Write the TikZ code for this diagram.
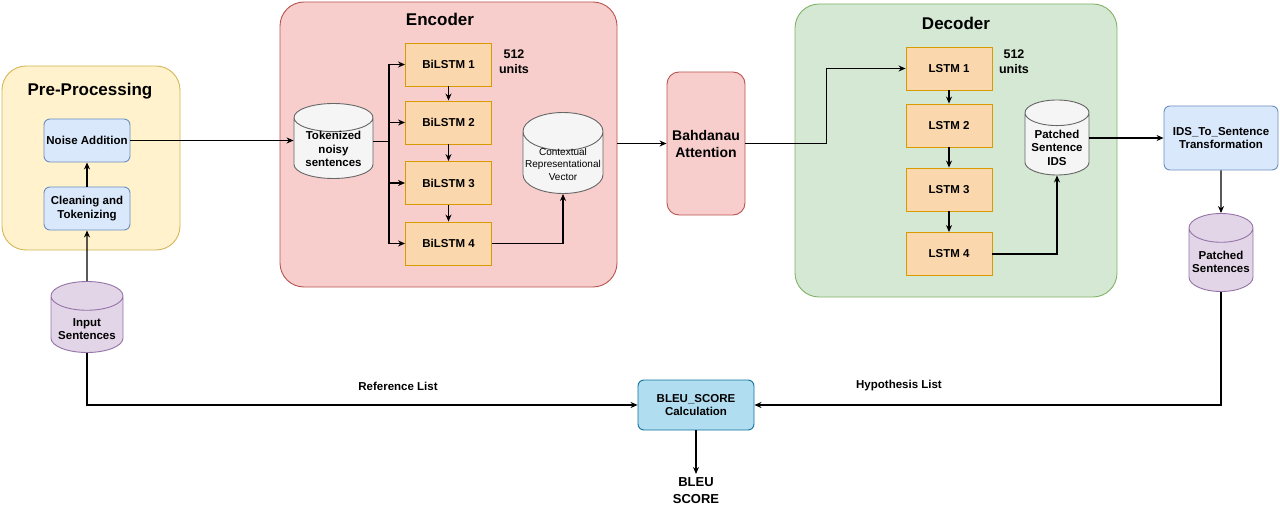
\documentclass[tikz,border=0pt]{standalone}
\usepackage{fontspec}
\setmainfont{Liberation Sans}
\usetikzlibrary{arrows.meta, positioning, shapes.geometric}
\definecolor{preFill}{HTML}{FFF2CC}
\definecolor{preLine}{HTML}{D6B656}
\definecolor{encFill}{HTML}{F8CECC}
\definecolor{encLine}{HTML}{B85450}
\definecolor{decFill}{HTML}{D5E8D4}
\definecolor{decLine}{HTML}{82B366}
\definecolor{procFill}{HTML}{DAE8FC}
\definecolor{procLine}{HTML}{6C8EBF}
\definecolor{dataFill}{HTML}{E1D5E7}
\definecolor{dataLine}{HTML}{9673A6}
\definecolor{memFill}{HTML}{F5F5F5}
\definecolor{memLine}{HTML}{666666}
\definecolor{cellFill}{HTML}{FAD7AC}
\definecolor{cellLine}{HTML}{D79B00}
\definecolor{bleuFill}{HTML}{B1DDF0}
\definecolor{bleuLine}{HTML}{10739E}
% text of a cylinder sits below its middle
\newcommand{\cyltext}[2]{\raisebox{-#1}[0pt][0pt]{\begin{tabular}{@{}c@{}}#2\end{tabular}}}
\tikzset{
  group/.style = {draw=#1, rounded corners=24pt, line width=0.9pt},
  grouptitle/.style = {font=\bfseries\fontsize{17}{20}\selectfont},
  procbox/.style = {draw=procLine, fill=procFill, rounded corners=6pt, line width=0.9pt,
    align=center, inner sep=0, minimum width=86pt, minimum height=43pt},
  layer/.style = {draw=cellLine, fill=cellFill, line width=0.9pt, inner sep=0,
    minimum width=86pt, minimum height=43pt},
  store/.style = {cylinder, shape border rotate=90, aspect=0.5, draw=#1, line width=0.9pt,
    inner sep=0, anchor=shape center},
  edge/.style = {line width=1.1pt},
  unitsnote/.style = {font=\bfseries\fontsize{12.5}{15}\selectfont, align=center},
  edgelabel/.style = {font=\bfseries\fontsize{11.5}{13}\selectfont},
}

\begin{document}
\begin{tikzpicture}[x=1pt, y=-1pt, >={Stealth[length=7pt, width=6pt]},
    font=\bfseries\fontsize{11.5}{13.5}\selectfont]
  \useasboundingbox (0,0) rectangle (1280,516);

  % groups
  \node (pre) [group=preLine, fill=preFill, minimum width=178pt, minimum height=184pt] at (91,158) {};
  \node (enc) [group=encLine, fill=encFill, minimum width=337pt, minimum height=285pt] at (448.5,144.5) {};
  \node (dec) [group=decLine, fill=decFill, minimum width=322pt, minimum height=293pt] at (956,150.5) {};
  \node (preTitle) [grouptitle] at (90,91) {Pre-Processing};
  \node (encTitle) [grouptitle] at (440,19) {Encoder};
  \node (decTitle) [grouptitle] at (956,23) {Decoder};

  % pre-processing
  \node (noise) [procbox] at (87,140.5) {Noise Addition};
  \node (clean) [procbox] at (87,208.5) {Cleaning and\\Tokenizing};
  \node (input) [store=dataLine, fill=dataFill, minimum width=72pt, minimum height=71pt] at (87,317) {\cyltext{9pt}{Input\\Sentences}};

  % encoder
  \node (tok) [store=memLine, fill=memFill, minimum width=79pt, minimum height=75pt] at (333.5,141) {\cyltext{5.5pt}{Tokenized\\noisy\\sentences}};
  \foreach \i/\y in {1/64.5, 2/122.5, 3/183, 4/243.5}{
    \node (bilstm\i) [layer] at (448.5,\y) {BiLSTM \i};
  }
  \node (encUnits) [unitsnote] at (514,62) {512\\units};
  \node (ctx) [store=memLine, fill=memFill, minimum width=80pt, minimum height=81pt,
    font=\fontsize{10}{12.5}\selectfont] at (563,153) {\cyltext{5pt}{Contextual\\Representational\\Vector}};

  % attention
  \node (attn) [draw=encLine, fill=encFill, rounded corners=12pt, line width=0.9pt, align=center,
    minimum width=78pt, minimum height=143pt, font=\bfseries\fontsize{14}{17}\selectfont] at (706,143.5) {Bahdanau\\Attention};

  % decoder
  \foreach \i/\y in {1/68.5, 2/125.5, 3/189.5, 4/254}{
    \node (lstm\i) [layer] at (949,\y) {LSTM \i};
  }
  \node (decUnits) [unitsnote] at (1014,62) {512\\units};
  \node (ids) [store=memLine, fill=memFill, minimum width=64pt, minimum height=75pt] at (1057,137.5) {\cyltext{8pt}{Patched\\Sentence\\IDS}};

  % post-processing
  \node (toSent) [procbox, minimum width=114pt, minimum height=64pt] at (1221,138) {IDS\_To\_Sentence\\Transformation};
  \node (patched) [store=dataLine, fill=dataFill, minimum width=64pt, minimum height=78pt] at (1221,252.5) {\cyltext{6.5pt}{Patched\\Sentences}};
  \node (bleu) [procbox, draw=bleuLine, fill=bleuFill, minimum width=116pt, minimum height=50pt] at (696,405) {BLEU\_SCORE\\Calculation};
  \node (score) [font=\bfseries\fontsize{13}{17}\selectfont, align=center, anchor=north] at (696,474) {BLEU\\SCORE};
  \node (refLabel) [edgelabel] at (398,386) {Reference List};
  \node (hypLabel) [edgelabel] at (899,386) {Hypothesis List};

  % connectors
  \draw [edge, ->] (input.north) -- (clean.south);
  \draw [edge, ->] (clean.north) -- (noise.south);
  \draw [edge, ->] (noise.east) -- (tok.west |- noise.east);
  \coordinate (split) at (389,141.5);
  \draw [edge] (tok.east |- split) -- (split);
  \draw [edge] (split |- bilstm1) -- (split |- bilstm4);
  \foreach \i in {1,...,4}{
    \draw [edge, ->] (split |- bilstm\i) -- (bilstm\i.west);
  }
  \foreach \i/\j in {1/2, 2/3, 3/4}{
    \draw [edge, ->] (bilstm\i) -- (bilstm\j);
    \draw [edge, ->] (lstm\i) -- (lstm\j);
  }
  \draw [edge, ->] (bilstm4.east) -| (ctx.south);
  \draw [edge, ->] (enc.east |- attn.west) -- (attn.west);
  \draw [edge, ->] (attn.east) -- ++(81,0) |- (lstm1.west);
  \draw [edge, ->] (lstm4.east) -| (ids.south);
  \draw [edge, ->] (ids.east |- toSent.west) -- (toSent.west);
  \draw [edge, ->] (toSent.south) -- (patched.north);
  \draw [edge, ->] (patched.south) |- (bleu.east);
  \draw [edge, ->] (input.south) |- (bleu.west);
  \draw [edge, ->] (bleu.south) -- (score.north);
\end{tikzpicture}
\end{document}
